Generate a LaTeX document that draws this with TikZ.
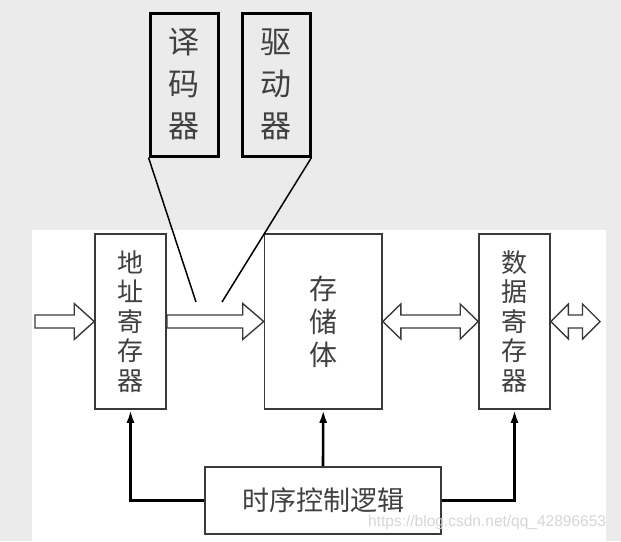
\documentclass[tikz,border=0pt]{standalone}
\usepackage{fontspec}
\setmainfont{Noto Sans CJK SC}
\setsansfont{Liberation Sans}
\usetikzlibrary{arrows.meta,calc}
\definecolor{bggray}{HTML}{EBEBEB}
\definecolor{txtgray}{HTML}{404040}
\definecolor{edgegray}{HTML}{3A3A3A}
\newcommand\hollowR[3]{%
  \draw[hollow] let \p1=(#1), \p2=(#2) in
  (\x1,\y1+6.5pt) -- (\x2-#3,\y1+6.5pt) -- (\x2-#3,\y1+18pt) -- (\x2,\y1)
  -- (\x2-#3,\y1-18pt) -- (\x2-#3,\y1-6.5pt) -- (\x1,\y1-6.5pt) -- cycle;}
\newcommand\hollowLR[3]{%
  \draw[hollow] let \p1=(#1), \p2=(#2) in
  (\x1,\y1) -- (\x1+#3,\y1+17.5pt) -- (\x1+#3,\y1+6.5pt) -- (\x2-#3,\y1+6.5pt)
  -- (\x2-#3,\y1+17.5pt) -- (\x2,\y1) -- (\x2-#3,\y1-17.5pt) -- (\x2-#3,\y1-6.5pt)
  -- (\x1+#3,\y1-6.5pt) -- (\x1+#3,\y1-17.5pt) -- cycle;}
\begin{document}
\begin{tikzpicture}[x=1pt,y=-1pt,
  topbox/.style={draw=black, line width=3pt, minimum width=68pt, minimum height=143pt,
    inner sep=0pt, align=center, text=txtgray, font=\fontsize{31}{42}\selectfont},
  reg/.style={draw=edgegray, line width=1.6pt, fill=white, minimum width=71pt,
    minimum height=175pt, inner sep=0pt, align=center, text=txtgray,
    font=\fontsize{26}{29.5}\selectfont},
  membox/.style={reg, minimum width=117.5pt, font=\fontsize{28}{33}\selectfont},
  ctlbox/.style={draw=edgegray, line width=1.6pt, fill=white, minimum width=236pt,
    minimum height=67pt, inner sep=0pt, text=txtgray, font=\fontsize{27}{30}\selectfont},
  hollow/.style={draw=edgegray, line width=1.4pt, fill=white, line join=miter},
  ctrl/.style={draw=black, line width=2.6pt, -{Latex[length=13pt,width=8pt]}},
  leader/.style={draw=black, line width=1.5pt}
]
\useasboundingbox (0,0) rectangle (621,541);
\fill[bggray] (0,0) rectangle (621,541);
\fill[white] (32,230) rectangle (606,541);

% top boxes
\node[topbox] (dec) at (184,84.5) {译\\码\\器};
\node[topbox] (drv) at (276,84.5) {驱\\动\\器};

% registers and memory
\node[reg] (addr) at (130.5,321.5) {地\\址\\寄\\存\\器};
\node[membox] (mem) at (323.25,321.5) {存\\储\\体};
\node[reg] (data) at (514.5,321.5) {数\\据\\寄\\存\\器};
\node[ctlbox] (ctl) at (323,500.5) {时序控制逻辑};

% free ends
\coordinate (inL) at (35,321.5);
\coordinate (outR) at (600,321.5);
\coordinate (decEnd) at (196,302);
\coordinate (drvEnd) at (222,302);

% leader lines
\draw[leader] (dec.south west) -- (decEnd);
\draw[leader] (drv.south east) -- (drvEnd);

% hollow arrows
\hollowR{inL}{addr.west}{20pt}
\hollowR{addr.east}{mem.west}{21pt}
\hollowLR{mem.east}{data.west}{18pt}
\hollowLR{data.east}{outR}{17.5pt}

% control arrows
\draw[ctrl] (ctl.west) -| (addr.south);
\draw[ctrl] (ctl.north) -- (mem.south);
\draw[ctrl] (ctl.east) -| (data.south);

% watermark
\node[anchor=west, inner sep=0pt, text=black!16, font=\sffamily\fontsize{15.5}{15.5}\selectfont]
  (wm) at (368,522) {https://blog.csdn.net/qq\_42896653};
\end{tikzpicture}
\end{document}
